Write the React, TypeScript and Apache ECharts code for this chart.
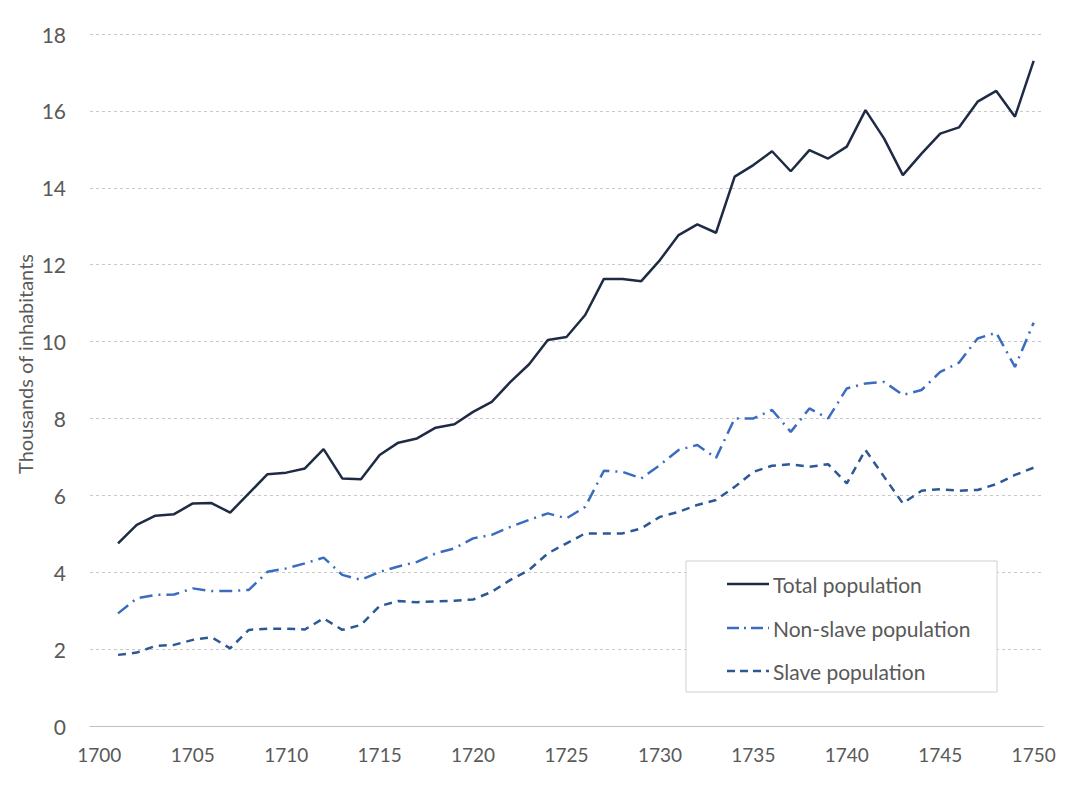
import React, { useEffect, useRef } from "react";
import * as echarts from "echarts";

const years: string[] = [];
for (let y = 1700; y <= 1750; y++) years.push(String(y));

// thousands of inhabitants, 1700 has no data
const totalPopulation = [
  null,
  4.75, 5.23, 5.47, 5.51, 5.79, 5.8, 5.55, 6.05, 6.55, 6.59,
  6.7, 7.2, 6.44, 6.42, 7.05, 7.37, 7.48, 7.76, 7.85, 8.17,
  8.43, 8.95, 9.41, 10.04, 10.12, 10.69, 11.63, 11.63, 11.57, 12.12,
  12.77, 13.05, 12.83, 14.29, 14.59, 14.95, 14.43, 14.98, 14.76, 15.07,
  16.02, 15.28, 14.33, 14.89, 15.41, 15.57, 16.24, 16.52, 15.85, 17.3,
];

const nonSlavePopulation = [
  null,
  2.93, 3.32, 3.41, 3.42, 3.58, 3.51, 3.51, 3.54, 4.01, 4.1,
  4.23, 4.38, 3.93, 3.8, 4.01, 4.15, 4.27, 4.49, 4.62, 4.88,
  4.97, 5.18, 5.36, 5.53, 5.4, 5.7, 6.64, 6.61, 6.44, 6.79,
  7.18, 7.31, 6.97, 8.0, 8.0, 8.22, 7.65, 8.26, 8.0, 8.78,
  8.91, 8.95, 8.61, 8.74, 9.21, 9.45, 10.08, 10.23, 9.34, 10.49,
];

const slavePopulation = [
  null,
  1.85, 1.91, 2.08, 2.11, 2.24, 2.31, 2.02, 2.5, 2.53, 2.53,
  2.51, 2.8, 2.5, 2.63, 3.12, 3.25, 3.22, 3.24, 3.26, 3.29,
  3.49, 3.8, 4.06, 4.49, 4.75, 5.01, 5.01, 5.01, 5.14, 5.44,
  5.57, 5.75, 5.88, 6.22, 6.61, 6.77, 6.81, 6.74, 6.81, 6.31,
  7.18, 6.48, 5.79, 6.12, 6.16, 6.12, 6.14, 6.29, 6.53, 6.72,
];

const seriesNames = ["Total population", "Non-slave population", "Slave population"];
const seriesColors = ["#1f2b45", "#3a6cbf", "#2d5896"];
const seriesDash: (number[] | null)[] = [null, [13, 6, 2, 6], [8, 6]];
const legendDash: (number[] | null)[] = [null, [12, 5, 2, 5], [8, 5]];
const yAxisTitle = "Thousands of inhabitants";
const FONT = "Lato, 'Open Sans', sans-serif";
const GRAY = "#595959";

export default function App() {
  const ref = useRef<HTMLDivElement>(null);
  useEffect(() => {
    document.body.style.margin = "0";
    if (!ref.current) return;
    const chart = echarts.init(ref.current, null, { renderer: "svg" });

    const rowY = [584, 628, 671];
    const graphics: any[] = [
      {
        type: "rect",
        z: 10,
        shape: { x: 686, y: 561, width: 311, height: 131 },
        style: { fill: "#ffffff", stroke: "#d0d0d0", lineWidth: 1 },
      },
      {
        type: "text",
        z: 10,
        x: 25,
        y: 364,
        rotation: Math.PI / 2,
        style: {
          text: yAxisTitle,
          fill: GRAY,
          font: `20px ${FONT}`,
          align: "center",
          verticalAlign: "middle",
        },
      },
    ];
    seriesNames.forEach((name, i) => {
      graphics.push({
        type: "line",
        z: 11,
        shape: { x1: 727, y1: rowY[i], x2: 769, y2: rowY[i] },
        style: {
          stroke: seriesColors[i],
          lineWidth: 2.5,
          lineDash: legendDash[i],
        },
      });
      graphics.push({
        type: "text",
        z: 11,
        x: 773,
        y: rowY[i],
        style: {
          text: name,
          fill: GRAY,
          font: `21px ${FONT}`,
          verticalAlign: "middle",
        },
      });
    });

    chart.setOption({
      animation: false,
      backgroundColor: "#ffffff",
      textStyle: { fontFamily: FONT },
      grid: {
        left: 90,
        right: 37,
        top: 34,
        bottom: 59,
        containLabel: false,
        outerBoundsMode: "none",
      },
      xAxis: {
        type: "category",
        data: years,
        boundaryGap: true,
        axisTick: { show: false },
        axisLine: { lineStyle: { color: "#bfbfbf", width: 1.2 } },
        axisLabel: {
          interval: 4,
          color: GRAY,
          fontSize: 19,
          fontFamily: FONT,
          margin: 19,
        },
        splitLine: { show: false },
      },
      yAxis: {
        type: "value",
        min: 0,
        max: 18,
        interval: 2,
        axisLine: { show: false },
        axisTick: { show: false },
        axisLabel: { color: GRAY, fontSize: 21, fontFamily: FONT, margin: 24 },
        splitLine: { lineStyle: { color: "#c8c8c8", type: [3, 3], width: 1 } },
      },
      graphic: graphics,
      series: [0, 1, 2].map((i) => ({
        name: seriesNames[i],
        type: "line",
        data: [totalPopulation, nonSlavePopulation, slavePopulation][i],
        symbol: "none",
        lineStyle: {
          color: seriesColors[i],
          width: 2.5,
          type: seriesDash[i] ?? "solid",
        },
        itemStyle: { color: seriesColors[i] },
      })),
    });
    return () => chart.dispose();
  }, []);
  return <div ref={ref} style={{ width: 1080, height: 785 }} />;
}
